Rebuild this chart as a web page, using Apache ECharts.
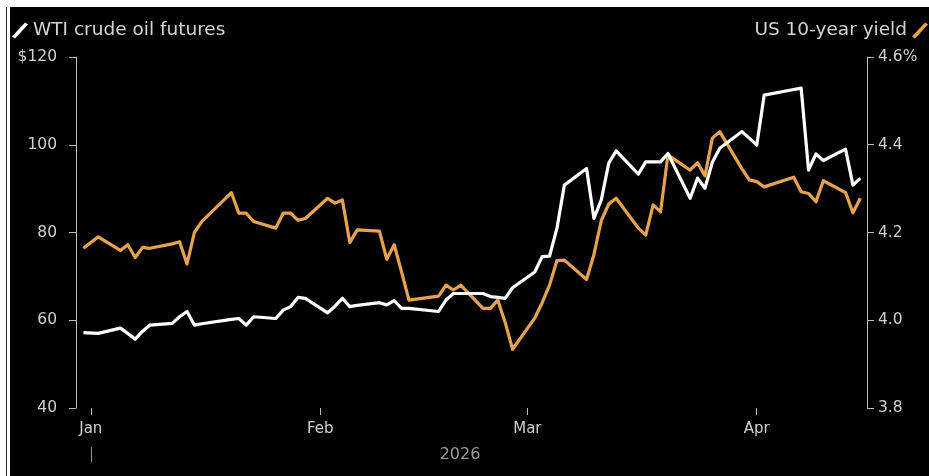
<!DOCTYPE html>
<html>
<head>
<meta charset="utf-8">
<script src="https://cdn.jsdelivr.net/npm/echarts@6/dist/echarts.min.js"></script>
<style>
  html, body { margin: 0; padding: 0; background: #fff; }
  #main { position: absolute; left: 0; top: 0; width: 929px; height: 476px; }
  .edge { position: absolute; background: #fff; z-index: 5; }
</style>
</head>
<body>
<div id="main"></div>
<div class="edge" style="left:0;top:0;width:929px;height:7px;"></div>
<div class="edge" style="left:0;top:0;width:10px;height:476px;"></div>
<div class="edge" style="left:6px;top:7px;width:1px;height:469px;background:#222;"></div>
<script>
// trading days
var dates = [
  '2025-12-31', '2026-01-02', '2026-01-05', '2026-01-06', '2026-01-07', '2026-01-08', '2026-01-09',
  '2026-01-12', '2026-01-13', '2026-01-14', '2026-01-15', '2026-01-16',
  '2026-01-20', '2026-01-21', '2026-01-22', '2026-01-23',
  '2026-01-26', '2026-01-27', '2026-01-28', '2026-01-29', '2026-01-30',
  '2026-02-02', '2026-02-03', '2026-02-04', '2026-02-05', '2026-02-06',
  '2026-02-09', '2026-02-10', '2026-02-11', '2026-02-12', '2026-02-13',
  '2026-02-17', '2026-02-18', '2026-02-19', '2026-02-20',
  '2026-02-23', '2026-02-24', '2026-02-25', '2026-02-26', '2026-02-27',
  '2026-03-02', '2026-03-03', '2026-03-04', '2026-03-05', '2026-03-06',
  '2026-03-09', '2026-03-10', '2026-03-11', '2026-03-12', '2026-03-13',
  '2026-03-16', '2026-03-17', '2026-03-18', '2026-03-19', '2026-03-20',
  '2026-03-23', '2026-03-24', '2026-03-25', '2026-03-26', '2026-03-27',
  '2026-03-30', '2026-03-31', '2026-04-01', '2026-04-02',
  '2026-04-06', '2026-04-07', '2026-04-08', '2026-04-09', '2026-04-10',
  '2026-04-13', '2026-04-14', '2026-04-15'
];

// WTI crude oil futures, $
var wti = [
  57.2, 57.0, 58.2, 57.0, 55.7, 57.5, 58.9,
  59.3, 60.8, 62.0, 58.9, 59.2,
  60.2, 60.4, 58.9, 60.8,
  60.4, 62.3, 63.1, 65.2, 65.0,
  61.7, 63.2, 65.0, 63.1, 63.4,
  64.0, 63.5, 64.5, 62.7, 62.7,
  62.0, 64.6, 66.1, 66.1,
  66.1, 65.4, 65.2, 65.0, 67.4,
  71.0, 74.5, 74.6, 81.0, 90.8,
  94.6, 83.2, 87.5, 95.8, 98.6,
  93.3, 96.1, 96.1, 96.1, 98.0,
  87.8, 92.4, 90.1, 96.0, 99.2,
  103.0, 101.5, 99.9, 111.3,
  112.6, 112.9, 94.2, 97.9, 96.4,
  99.0, 90.8, 92.4
];

// US 10-year yield, %
var yld = [
  4.164, 4.190, 4.159, 4.172, 4.143, 4.166, 4.164,
  4.174, 4.179, 4.128, 4.200, 4.225,
  4.291, 4.244, 4.244, 4.225,
  4.210, 4.244, 4.244, 4.228, 4.232,
  4.278, 4.267, 4.274, 4.177, 4.206,
  4.203, 4.139, 4.172, 4.110, 4.046,
  4.055, 4.080, 4.069, 4.080,
  4.027, 4.027, 4.046, 3.995, 3.934,
  4.005, 4.040, 4.080, 4.136, 4.137,
  4.093, 4.150, 4.228, 4.265, 4.278,
  4.210, 4.194, 4.263, 4.247, 4.377,
  4.342, 4.359, 4.329, 4.415, 4.430,
  4.345, 4.320, 4.316, 4.304,
  4.326, 4.293, 4.289, 4.270, 4.318,
  4.291, 4.245, 4.278
];

var monthTicks = ['2026-01-01', '2026-02-01', '2026-03-01', '2026-04-01'];
var monthNames = ['Jan', 'Feb', 'Mar', 'Apr'];
var yearLabel = '2026';

var FONT = '"DejaVu Sans", sans-serif';
var slash = 'path://M0,14 L3,16 L16,2 L13,0 Z';

function ts(d) { return Date.parse(d + 'T00:00:00Z'); }
var tickTimes = monthTicks.map(ts);

var myChart = echarts.init(document.getElementById('main'));

var option = {
    backgroundColor: '#000',
    animation: false,
    textStyle: { fontFamily: FONT },
    legend: [{
        data: ['WTI crude oil futures'],
        left: 7, top: 16,
        icon: slash, itemWidth: 16, itemHeight: 16, itemGap: 8,
        textStyle: { color: '#d4d4d4', fontSize: 18.5, fontFamily: FONT }
    }, {
        data: ['US 10-year yield'],
        right: -4, top: 16, align: 'right',
        icon: slash, itemWidth: 16, itemHeight: 16,
        textStyle: { color: '#d4d4d4', fontSize: 18.5, fontFamily: FONT }
    }],
    grid: { left: 76, right: 62, top: 57, bottom: 68 },
    xAxis: {
        type: 'value',
        min: ts('2025-12-30'),
        max: ts('2025-12-30') + 106.9 * 86400000,
        axisLine: { show: false },
        splitLine: { show: false },
        axisTick: { show: true, length: 7, customValues: tickTimes, lineStyle: { color: '#bbb', width: 1 } },
        axisLabel: {
            customValues: tickTimes,
            color: '#d0d0d0', fontSize: 15, margin: 14, fontFamily: FONT,
            formatter: function (v) {
                return monthNames[new Date(v).getUTCMonth()];
            }
        }
    },
    yAxis: [{
        type: 'value', min: 40, max: 120, interval: 20,
        axisLine: { show: true, lineStyle: { color: '#bbb', width: 1 } },
        axisTick: { show: true, length: 7, lineStyle: { color: '#bbb' } },
        splitLine: { show: false },
        axisLabel: {
            color: '#d0d0d0', fontSize: 15.5, margin: 19, fontFamily: FONT,
            formatter: function (v) { return v === 120 ? '$120' : String(v); }
        }
    }, {
        type: 'value', min: 3.8, max: 4.6, interval: 0.2,
        axisLine: { show: true, lineStyle: { color: '#bbb', width: 1 } },
        axisTick: { show: true, length: 7, lineStyle: { color: '#bbb' } },
        splitLine: { show: false },
        axisLabel: {
            color: '#d0d0d0', fontSize: 15.5, margin: 11, fontFamily: FONT,
            formatter: function (v) {
                var s = v.toFixed(1);
                return s === '4.6' ? '4.6%' : s;
            }
        }
    }],
    series: [{
        name: 'US 10-year yield',
        type: 'line',
        yAxisIndex: 1,
        symbol: 'none',
        color: '#e6a24c',
        lineStyle: { width: 3.2, color: '#e6a24c', join: 'round' },
        data: dates.map(function (d, i) { return [ts(d), yld[i]]; })
    }, {
        name: 'WTI crude oil futures',
        type: 'line',
        yAxisIndex: 0,
        symbol: 'none',
        color: '#ffffff',
        lineStyle: { width: 3.2, color: '#ffffff', join: 'round' },
        data: dates.map(function (d, i) { return [ts(d), wti[i]]; })
    }]
};

myChart.setOption(option);

// year label and its separator tick under Jan
var janX = myChart.convertToPixel({ xAxisIndex: 0 }, tickTimes[0]);
myChart.setOption({
    graphic: [{
        type: 'line',
        shape: { x1: Math.round(janX) + 0.5, y1: 447, x2: Math.round(janX) + 0.5, y2: 462 },
        style: { stroke: '#999', lineWidth: 1 }
    }, {
        type: 'text',
        x: 460, y: 455,
        style: {
            text: yearLabel, fill: '#9a9a9a', fontSize: 16, fontFamily: FONT,
            align: 'center', verticalAlign: 'middle'
        }
    }]
});

window.addEventListener('resize', function () {
    myChart.resize();
});
</script>
</body>
</html>
